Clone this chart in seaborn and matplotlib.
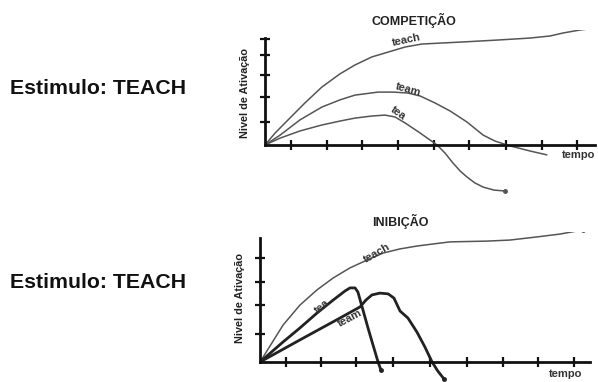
import pandas as pd
import seaborn as sns
import matplotlib.pyplot as plt

plt.switch_backend('Agg')

# top panel (COMPETIÇÃO): tempo units / activation units
top_teach_t = [0, 0.28, 0.64, 1.11, 1.58, 2.08, 2.5, 2.97, 3.42, 3.89, 4.36, 4.86,
               5.5, 6.53, 7.36, 7.92, 8.28, 8.75, 9.22]
top_teach_a = [0, 0.52, 1.09, 1.83, 2.52, 3.09, 3.48, 3.83, 4.04, 4.26, 4.39, 4.43,
               4.48, 4.57, 4.65, 4.74, 4.87, 5.0, 5.09]
top_team_t = [0, 0.42, 0.97, 1.58, 2.08, 2.5, 3.14, 3.56, 3.97, 4.31, 4.72, 5.14,
              5.61, 6.06, 6.39, 6.81, 7.36, 7.83]
top_team_a = [0, 0.43, 1.09, 1.65, 1.96, 2.17, 2.3, 2.3, 2.26, 2.13, 1.83, 1.48,
              1.0, 0.43, 0.17, -0.04, -0.26, -0.43]
top_tea_t = [0, 0.42, 0.97, 1.58, 2.08, 2.5, 2.97, 3.33, 3.61, 3.89, 4.31, 4.78,
             5.0, 5.22, 5.42, 5.61, 5.83, 6.06, 6.36, 6.67]
top_tea_a = [0, 0.3, 0.61, 0.87, 1.04, 1.17, 1.26, 1.3, 1.22, 0.96, 0.52, 0,
             -0.35, -0.78, -1.13, -1.39, -1.65, -1.83, -1.96, -2.0]
top_xticks = [0.72, 1.72, 2.69, 3.69, 4.7, 5.67, 6.7, 7.7, 8.67]
top_yticks = [1.0, 2.09, 3.04, 3.91, 4.6]

# bottom panel (INIBIÇÃO)
bot_teach_t = [0, 0.28, 0.64, 1.11, 1.58, 2.03, 2.5, 2.97, 3.42, 3.89, 4.36, 4.81,
               5.28, 6.31, 6.94, 7.69, 8.33, 8.97]
bot_teach_a = [0, 0.62, 1.42, 2.19, 2.77, 3.23, 3.62, 3.92, 4.19, 4.35, 4.46, 4.54,
               4.62, 4.65, 4.69, 4.81, 4.92, 5.08]
bot_tea_t = [0, 0.64, 1.11, 1.58, 2.03, 2.36, 2.5, 2.64, 2.72, 2.86, 3.0, 3.14, 3.28, 3.36]
bot_tea_a = [0, 0.77, 1.31, 1.88, 2.38, 2.73, 2.85, 2.85, 2.69, 2.0, 1.31, 0.65, 0, -0.31]
bot_team_t = [0, 1.11, 2.22, 2.78, 2.94, 3.11, 3.33, 3.56, 3.72, 3.89, 4.11, 4.36,
              4.58, 4.78, 4.94, 5.11]
bot_team_a = [0, 0.85, 1.69, 2.12, 2.38, 2.58, 2.65, 2.62, 2.46, 1.96, 1.69, 1.15,
              0.58, 0, -0.35, -0.65]
bot_xticks = [0.72, 1.69, 2.67, 3.69, 4.72, 5.75, 6.75, 7.72, 8.72]
bot_yticks = [1.08, 2.19, 3.08, 4.0]

sns.set_style("white")
plt.rcParams['font.family'] = ['Liberation Sans', 'DejaVu Sans']

W, H = 598, 382
fig = plt.figure(figsize=(W / 100, H / 100), dpi=100)


def make_axes(ox, oy, ux, uy, top_px, bot_px):
    # axes box in pixels -> data limits so that one unit = ux / uy pixels
    ax = fig.add_axes([ox / W, 1 - bot_px / H, (W - ox) / W, (bot_px - top_px) / H])
    ax.set_xlim(0, (W - ox) / ux)
    ax.set_ylim((oy - bot_px) / uy, (oy - top_px) / uy)
    return ax


def style_axes(ax, xend, yend, xticks, yticks):
    for s in ['top', 'right']:
        ax.spines[s].set_visible(False)
    ax.spines['left'].set_position(('data', 0))
    ax.spines['bottom'].set_position(('data', 0))
    ax.spines['left'].set_bounds(0, yend)
    ax.spines['bottom'].set_bounds(0, xend)
    for s in ['left', 'bottom']:
        ax.spines[s].set_linewidth(2)
        ax.spines[s].set_color('#111111')
    ax.set_xticks(xticks)
    ax.set_yticks(yticks)
    ax.tick_params(bottom=True, left=True, direction='inout', length=7, width=1.6,
                   color='#111111', labelbottom=False, labelleft=False)
    ax.set_xlabel('')
    ax.set_ylabel('')
    ax.patch.set_alpha(0)


def curve(ax, t, a, lw, color, dot=False):
    df = pd.DataFrame({'t': t, 'a': a})
    sns.lineplot(data=df, x='t', y='a', ax=ax, sort=False, estimator=None,
                 color=color, linewidth=lw, solid_joinstyle='round')
    if dot:
        ax.plot(t[-1], a[-1], 'o', color=color, markersize=2.5)


# ---- top panel
ax1 = make_axes(265, 145, 36, 23, 30, 197)
curve(ax1, top_teach_t, top_teach_a, 1.1, '#555555')
curve(ax1, top_team_t, top_team_a, 1.1, '#555555')
curve(ax1, top_tea_t, top_tea_a, 1.1, '#555555', dot=True)
style_axes(ax1, 9.17, 4.65, top_xticks, top_yticks)
lab = dict(fontsize=8, fontweight='bold', color='#333333', ha='center', va='center')
ax1.text(3.94, 4.55, 'teach', rotation=12, **lab)
ax1.text(3.97, 2.4, 'team', rotation=-16, **lab)
ax1.text(3.69, 1.4, 'tea', rotation=-35, **lab)
ax1.text(8.7, -0.43, 'tempo', **lab)

# ---- bottom panel
ax2 = make_axes(260, 362, 36, 26, 232, 382)
curve(ax2, bot_teach_t, bot_teach_a, 1.1, '#555555', dot=True)
curve(ax2, bot_tea_t, bot_tea_a, 2.0, '#222222', dot=True)
curve(ax2, bot_team_t, bot_team_a, 2.0, '#222222', dot=True)
style_axes(ax2, 9.17, 4.77, bot_xticks, bot_yticks)
ax2.text(3.25, 4.2, 'teach', rotation=30, **lab)
ax2.text(1.72, 2.15, 'tea', rotation=40, **lab)
ax2.text(2.5, 1.69, 'team', rotation=28, **lab)
ax2.text(8.5, -0.46, 'tempo', **lab)

# titles and labels
fig.text(414 / W, 1 - 20 / H, 'COMPETIÇÃO', fontsize=9, fontweight='bold',
         color='#222222', ha='center', va='center')
fig.text(400 / W, 1 - 221 / H, 'INIBIÇÃO', fontsize=9, fontweight='bold',
         color='#222222', ha='center', va='center')
fig.text(245 / W, 1 - 93 / H, 'Nivel de Ativação', fontsize=7.8, fontweight='bold',
         rotation=90, color='#222222', ha='center', va='center')
fig.text(240 / W, 1 - 298 / H, 'Nivel de Ativação', fontsize=7.8, fontweight='bold',
         rotation=90, color='#222222', ha='center', va='center')
fig.text(10 / W, 1 - 89 / H, 'Estimulo: TEACH', fontsize=15.3, fontweight='bold',
         color='#111111', ha='left', va='center')
fig.text(10 / W, 1 - 283 / H, 'Estimulo: TEACH', fontsize=15.3, fontweight='bold',
         color='#111111', ha='left', va='center')

fig.savefig('out.png', dpi=100)
